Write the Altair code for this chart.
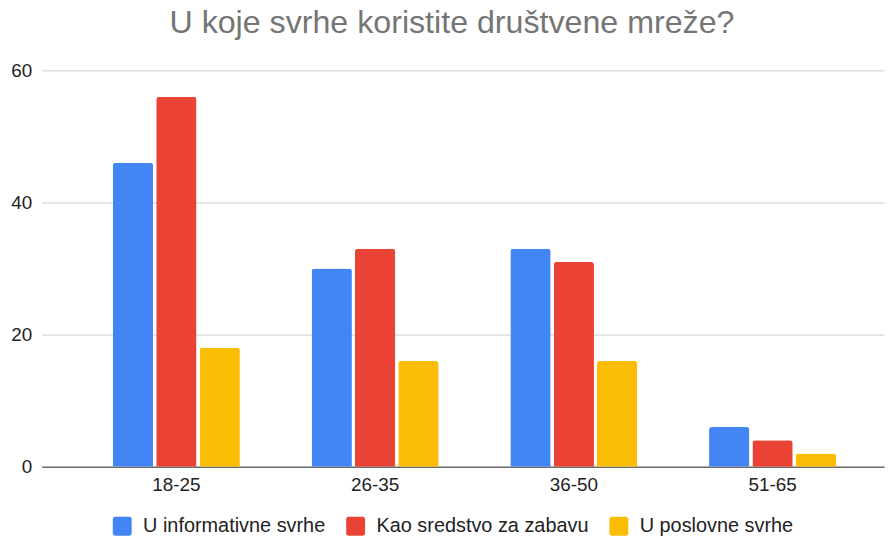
import altair as alt
import pandas as pd

categories = ["18-25", "26-35", "36-50", "51-65"]
series = ["U informativne svrhe", "Kao sredstvo za zabavu", "U poslovne svrhe"]
informativne = [46, 30, 33, 6]
zabava = [56, 33, 31, 4]
poslovne = [18, 16, 16, 2]
colors = ["#4285F4", "#EA4335", "#FBBC04"]
y_ticks = [0, 20, 40, 60]

rows = []
for s, vals in zip(series, [informativne, zabava, poslovne]):
    for c, v in zip(categories, vals):
        rows.append({"grupa": c, "serija": s, "vrijednost": v})
df = pd.DataFrame(rows)

FONT = "Liberation Sans, Arial, sans-serif"
rounded_sq = ("M -0.75,-1 L 0.75,-1 Q 1,-1 1,-0.75 L 1,0.75 Q 1,1 0.75,1 "
              "L -0.75,1 Q -1,1 -1,0.75 L -1,-0.75 Q -1,-1 -0.75,-1 Z")

chart = alt.Chart(df).mark_bar(
    cornerRadiusTopLeft=3, cornerRadiusTopRight=3
).encode(
    x=alt.X("grupa:N", sort=categories, title=None,
            scale=alt.Scale(paddingInner=0.361, paddingOuter=0.2996, align=0.597,
                            round=False),
            axis=alt.Axis(labelAngle=0, labelFontSize=19, labelColor="#222222",
                          labelFont=FONT, ticks=False, domain=True,
                          domainColor="#333333", domainWidth=1, labelPadding=9)),
    xOffset=alt.XOffset("serija:N", sort=series,
                        scale=alt.Scale(paddingInner=0.07, paddingOuter=0, round=False)),
    y=alt.Y("vrijednost:Q", title=None,
            scale=alt.Scale(domain=[0, 60], nice=False),
            axis=alt.Axis(values=y_ticks, labelFontSize=19, labelColor="#222222",
                          labelFont=FONT, ticks=False, domain=False,
                          gridColor="#cccccc", gridWidth=1, labelPadding=10)),
    color=alt.Color("serija:N", sort=series,
                    scale=alt.Scale(domain=series, range=colors),
                    legend=alt.Legend(title=None, orient="none", direction="horizontal",
                                      legendX=71, legendY=449,
                                      symbolType=rounded_sq, symbolSize=361,
                                      symbolStrokeWidth=0,
                                      labelFontSize=20, labelFont=FONT,
                                      labelColor="#222222", labelOffset=11,
                                      labelLimit=0,
                                      columnPadding=20, padding=0)),
).properties(
    width=848,
    height=399,
    padding={"left": 34, "top": 61, "right": 4, "bottom": 68},
    autosize=alt.AutoSizeParams(type="none"),
    title=alt.TitleParams(
        "U koje svrhe koristite društvene mreže?",
        fontSize=32.4, font=FONT, color="#757575", fontWeight="normal",
        anchor="middle", dx=-11, baseline="alphabetic", offset=-4,
    ),
).configure_view(stroke=None)

chart.save("out.html", embed_options={"renderer": "svg", "actions": False})
